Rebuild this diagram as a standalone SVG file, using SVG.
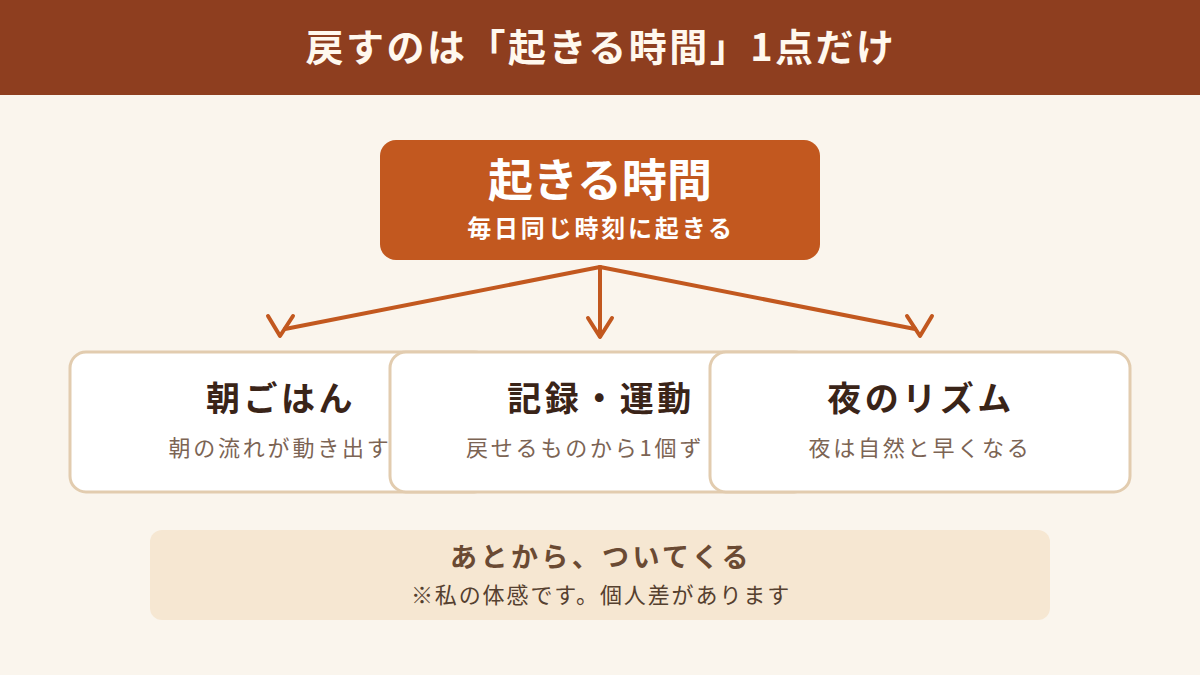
<svg xmlns="http://www.w3.org/2000/svg" width="1200" height="675" viewBox="0 0 1200 675">
<style>
text{font-family:"Noto Sans CJK JP","Noto Sans",sans-serif;text-anchor:middle}
.hdr{font-size:38px;font-weight:700;fill:#FFF8EE;letter-spacing:2.5px}
.mt{font-size:45px;font-weight:700;fill:#FFFFFF}
.ms{font-size:24px;font-weight:700;fill:#FFFFFF;letter-spacing:2.8px}
.card{fill:#FFFFFF;stroke:#E2CCAF;stroke-width:3}
.ct{font-size:34px;font-weight:700;fill:#3A2418;letter-spacing:3.5px}
.cs{font-size:22px;font-weight:400;fill:#7C6454;letter-spacing:2.8px}
.bt{font-size:27px;font-weight:700;fill:#6A4A33;letter-spacing:3.4px}
.bs{font-size:22px;font-weight:400;fill:#55402F;letter-spacing:1.9px}
.ln{stroke:#C2581F;stroke-width:4;fill:none;stroke-linecap:round;stroke-linejoin:round}
</style>
<rect x="0" y="0" width="1200" height="675" fill="#FAF5ED"/>
<g id="header">
<rect x="0" y="0" width="1200" height="95" fill="#8E3E1F"/>
<text class="hdr" x="601" y="61">戻すのは「起きる時間」1点だけ</text>
</g>
<g id="node-wake">
<rect x="380" y="140" width="440" height="120" rx="16" fill="#C2581F"/>
<text class="mt" x="600" y="197">起きる時間</text>
<text class="ms" x="601" y="237">毎日同じ時刻に起きる</text>
</g>
<g id="connectors">
<path class="ln" d="M600 267 L285 329"/>
<path class="ln" d="M268 316 L280 336 L293 316"/>
<path class="ln" d="M600 267 L600 336"/>
<path class="ln" d="M588 318 L600 337 L612 318"/>
<path class="ln" d="M600 267 L915 329"/>
<path class="ln" d="M907 316 L920 336 L932 316"/>
</g>
<g id="node-breakfast">
<rect class="card" x="70" y="352" width="420" height="140" rx="16"/>
<text class="ct" x="281" y="411">朝ごはん</text>
<text class="cs" x="280" y="456">朝の流れが動き出す</text>
</g>
<g id="node-record">
<rect class="card" x="390" y="352" width="420" height="140" rx="16"/>
<text class="ct" x="601" y="411">記録・運動</text>
<text class="cs" x="466" y="456" style="text-anchor:start">戻せるものから1個ず</text>
</g>
<g id="node-night">
<rect class="card" x="710" y="352" width="420" height="140" rx="16"/>
<text class="ct" x="921" y="411">夜のリズム</text>
<text class="cs" x="920" y="456">夜は自然と早くなる</text>
</g>
<g id="note">
<rect x="150" y="530" width="900" height="90" rx="12" fill="#F6E7D2"/>
<text class="bt" x="601" y="567">あとから、ついてくる</text>
<text class="bs" x="601" y="603">※私の体感です。個人差があります</text>
</g>
</svg>
